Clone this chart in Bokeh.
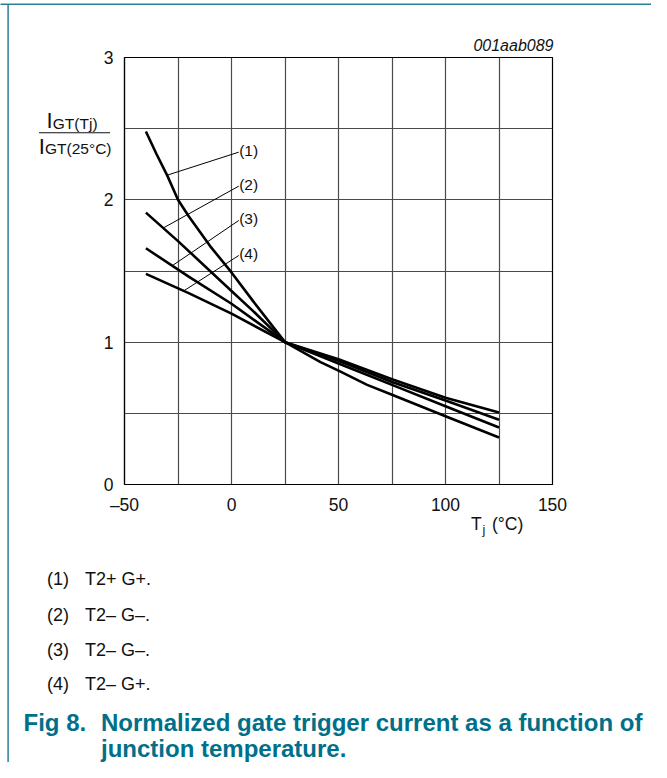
import numpy as np
from bokeh.plotting import figure
from bokeh.models import Range1d, FixedTicker, Label
from bokeh.core.properties import value
from bokeh.embed import file_html
from bokeh.resources import INLINE

# ---------------- data ----------------
temp_1 = [-40, -35, -30, -25, -20, -10, 0, 10, 25, 41.6, 50, 63.4, 75, 100, 125]
igt_1 = [2.48, 2.32, 2.17, 2.0, 1.885, 1.675, 1.49, 1.29, 1.0, 0.86, 0.80, 0.70, 0.63, 0.48, 0.33]

temp_2 = [-40, -25, 0, 10, 25, 50, 75, 100, 125]
igt_2 = [1.91, 1.71, 1.36, 1.22, 1.0, 0.85, 0.70, 0.55, 0.40]

temp_3 = [-40, -20, 0, 25, 50, 75, 100, 125]
igt_3 = [1.66, 1.46, 1.27, 1.0, 0.87, 0.72, 0.59, 0.455]

temp_4 = [-40, -20, 0, 25, 50, 75, 100, 125]
igt_4 = [1.48, 1.345, 1.2, 1.0, 0.88, 0.74, 0.61, 0.505]

curve_ids = ["(1)", "(2)", "(3)", "(4)"]
leader_from_x = [-30.1, -31.9, -27.7, -22.3]
label_y = [2.335, 2.096, 1.855, 1.609]
label_x = 3.4

legend_items = ["T2+ G+.", "T2\u2013 G\u2013.", "T2\u2013 G\u2013.", "T2\u2013 G+."]

x_ticks = [-50, 0, 50, 100, 150]
x_tick_text = {-50: "\u201350"}
y_ticks = [0, 1, 2, 3]
x_grid = [-25, 0, 25, 50, 75, 100, 125]
y_grid = [0.5, 1, 1.5, 2, 2.5]

# ---------------- layout helpers (picture px -> data) ----------------
W, H = 651, 762
FR_L, FR_R, FR_T, FR_B = 124, 552, 57, 484   # plot frame in picture px


def xd(px):
    return -50 + (px - FR_L) * 200.0 / (FR_R - FR_L)


def yd(py):
    return (FR_B - py) * 3.0 / (FR_B - FR_T)


FONT = "Liberation Sans"
INK = "#111111"
TEAL = "#00708a"
LINE_TEAL = "#2a7f98"

p = figure(width=W, height=H, output_backend="svg", toolbar_location=None,
           title=None, x_range=Range1d(-50, 150), y_range=Range1d(0, 3),
           min_border_left=FR_L, min_border_right=W - FR_R,
           min_border_top=FR_T, min_border_bottom=H - FR_B)
p.background_fill_color = "white"
p.border_fill_color = "white"
p.outline_line_color = "black"
p.outline_line_width = 1.2

for ax in (p.xaxis[0], p.yaxis[0]):
    ax.major_tick_line_color = None
    ax.minor_tick_line_color = None
    ax.major_tick_out = 0
    ax.major_tick_in = 0
    ax.minor_tick_out = 0
    ax.minor_tick_in = 0
    ax.axis_line_color = "black"
    ax.axis_line_width = 1.2
    ax.major_label_text_font = FONT
    ax.major_label_text_font_size = "17.5px"
    ax.major_label_text_color = INK

p.xaxis.ticker = FixedTicker(ticks=x_ticks)
p.xaxis.major_label_overrides = x_tick_text
p.xaxis.major_label_standoff = 10
p.yaxis.ticker = FixedTicker(ticks=y_ticks)
p.yaxis.major_label_standoff = 11

p.xgrid.ticker = FixedTicker(ticks=x_grid)
p.ygrid.ticker = FixedTicker(ticks=y_grid)
for g in (p.xgrid[0], p.ygrid[0]):
    g.grid_line_color = "#4a4a4a"
    g.grid_line_width = 1.2

# ---------------- curves ----------------
curves = [(temp_1, igt_1), (temp_2, igt_2), (temp_3, igt_3), (temp_4, igt_4)]
for t, v in curves:
    p.line(t, v, line_color="black", line_width=2.6, line_join="round")

# leader lines + curve labels (inside the frame)
leader_from_y = [float(np.interp(xf, t, v)) for xf, (t, v) in zip(leader_from_x, curves)]
p.segment(x0=leader_from_x, y0=leader_from_y, x1=[label_x] * 4, y1=label_y,
          line_color="black", line_width=1)
for cid, ly in zip(curve_ids, label_y):
    p.add_layout(Label(x=label_x + 0.2, y=ly, y_offset=1.5, text=cid, text_font=FONT,
                       text_font_size="15.5px", text_color=INK,
                       text_align="left", text_baseline="middle"))


def add_text(px, py, text, size, align="left", style="normal", color=INK):
    # text outside the frame: a text glyph on the overlay level (not clipped);
    # py is the vertical middle of the text in picture px
    p.text(x=[xd(px)], y=[yd(py)], text=[text], text_font=value(FONT),
           text_font_size=value(size), text_font_style=value(style),
           text_color=color, text_align=value(align), text_baseline=value("middle"),
           level="overlay")


def add_rule(px0, py0, px1, py1, width, color):
    p.segment(x0=[xd(px0)], y0=[yd(py0)], x1=[xd(px1)], y1=[yd(py1)],
              line_color=color, line_width=width, level="overlay")


# page rules
add_rule(0, 3.8, W, 3.8, 1.5, LINE_TEAL)
add_rule(7.6, 3.8, 7.6, H, 1.5, LINE_TEAL)

# chart id
add_text(553, 45, "001aab089", "16px", align="right", style="italic")

# y-axis label as a fraction
add_text(46, 119.7, "I", "22px")
add_text(52.3, 122.9, "GT(Tj)", "15.5px")
add_text(38.2, 145.7, "I", "22px")
add_text(44.5, 148.4, "GT(25\u00b0C)", "15.5px")
add_rule(38.5, 132.3, 109.5, 132.3, 1.1, INK)

# x-axis label T_j (°C)
add_text(470.5, 523.5, "T", "17.5px")
add_text(482, 529.3, "j", "12.5px")
add_text(491.5, 523.5, "(\u00b0C)", "17.5px")

# legend under the chart
row_y = [578, 614, 649, 683]
for cid, txt, ry in zip(curve_ids, legend_items, row_y):
    add_text(46.5, ry, cid, "18px")
    add_text(84.5, ry, txt, "18px")

# caption
add_text(23, 722, "Fig 8.", "24px", style="bold", color=TEAL)
add_text(100.5, 722, "Normalized gate trigger current as a function of", "24px",
         style="bold", color=TEAL)
add_text(100.5, 748, "junction temperature.", "24px", style="bold", color=TEAL)

open("out.html", "w").write(file_html(p, INLINE))
